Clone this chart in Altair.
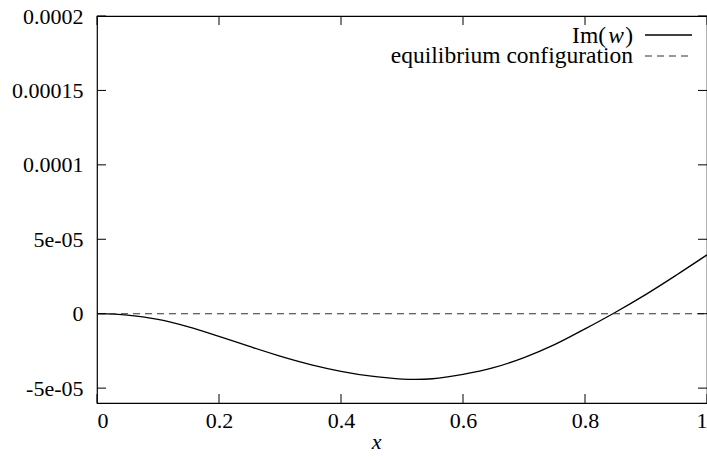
import altair as alt
import pandas as pd

# ---- data ----
x_vals = [0.0, 0.05, 0.1, 0.15, 0.2, 0.25, 0.3, 0.35, 0.4, 0.45, 0.5,
          0.55, 0.6, 0.65, 0.7, 0.75, 0.8, 0.85, 0.9, 0.95, 1.0]
im_w = [0.0, -0.9e-6, -3.8e-6, -8.8e-6, -1.52e-5, -2.2e-5, -2.85e-5, -3.42e-5,
        -3.87e-5, -4.2e-5, -4.39e-5, -4.37e-5, -4.08e-5, -3.63e-5, -2.95e-5,
        -2.08e-5, -1.02e-5, 1.0e-6, 1.3e-5, 2.6e-5, 3.95e-5]
eq_x = [0.0, 1.0]
eq_y = [0.0, 0.0]

x_ticks = [0, 0.2, 0.4, 0.6, 0.8, 1.0]
x_tick_labels = ["0", "0.2", "0.4", "0.6", "0.8", "1"]
y_ticks = [-5e-05, 0.0, 5e-05, 1e-04, 1.5e-04, 2e-04]
y_tick_labels = ["-5e-05", "0", "5e-05", "0.0001", "0.00015", "0.0002"]

series_names = ["Im(w)", "equilibrium configuration"]

W, H = 610, 387
FONT = "'Liberation Serif', 'DejaVu Serif', serif"


def label_expr(values, labels):
    expr = "''"
    for v, l in zip(values, labels):
        expr = f"abs(datum.value - ({v})) < 1e-9 ? '{l}' : ({expr})"
    return expr


xscale = alt.Scale(domain=[0, 1], nice=False, zero=False)
yscale = alt.Scale(domain=[-6e-05, 2e-04], nice=False, zero=False)

x_axis = alt.Axis(values=x_ticks,
                  labelExpr=label_expr(x_ticks, x_tick_labels),
                  title="x", titleFontStyle="italic",
                  titleFont=FONT, titleFontSize=22,
                  titleFontWeight="normal",
                  titleX=279, titleY=38, titleBaseline="middle",
                  titleAnchor="start", titleAlign="center",
                  labelPadding=7, labelBaseline="top", labelFont=FONT)
y_axis = alt.Axis(values=y_ticks,
                  labelExpr=label_expr(y_ticks, y_tick_labels),
                  title=None, labelPadding=14,
                  labelBaseline="middle", labelFont=FONT)

curve_df = pd.DataFrame({"x": x_vals, "y": im_w})
eq_df = pd.DataFrame({"x": eq_x, "y": eq_y})
xt_df = pd.DataFrame({"x": x_ticks})
yt_df = pd.DataFrame({"y": y_ticks})

curve = alt.Chart(curve_df).mark_line(
    color="black", strokeWidth=1.3, interpolate="catmull-rom"
).encode(
    x=alt.X("x:Q", scale=xscale, axis=x_axis),
    y=alt.Y("y:Q", scale=yscale, axis=y_axis),
)

eq = alt.Chart(eq_df).mark_line(
    color="#333333", strokeWidth=1.1, strokeDash=[7, 5]
).encode(
    x=alt.X("x:Q", scale=xscale, axis=x_axis),
    y=alt.Y("y:Q", scale=yscale, axis=y_axis),
)

tick_len = 9
yt_left = alt.Chart(yt_df).mark_rule(color="black", strokeWidth=1).encode(
    y=alt.Y("y:Q", scale=yscale, axis=y_axis),
    x=alt.value(0), x2=alt.value(tick_len))
yt_right = alt.Chart(yt_df).mark_rule(color="black", strokeWidth=1).encode(
    y=alt.Y("y:Q", scale=yscale, axis=y_axis),
    x=alt.value(W - tick_len), x2=alt.value(W))
xt_bottom = alt.Chart(xt_df).mark_rule(color="black", strokeWidth=1).encode(
    x=alt.X("x:Q", scale=xscale, axis=x_axis),
    y=alt.value(H - tick_len), y2=alt.value(H))
xt_top = alt.Chart(xt_df).mark_rule(color="black", strokeWidth=1).encode(
    x=alt.X("x:Q", scale=xscale, axis=x_axis),
    y=alt.value(0), y2=alt.value(tick_len))

# ---- legend (gnuplot style: text, then sample) ----
LFS = 23.5
leg_df = pd.DataFrame({"name": series_names})
txt_right = 536
row1, row2 = 20, 40
leg_im1 = alt.Chart(leg_df.iloc[[0]]).mark_text(
    font=FONT, fontSize=LFS, align="right", baseline="middle", color="black"
).encode(text=alt.value("Im("), x=alt.value(txt_right - 10 - 17), y=alt.value(row1))
leg_im2 = alt.Chart(leg_df.iloc[[0]]).mark_text(
    font=FONT, fontSize=LFS, align="right", baseline="middle", color="black",
    fontStyle="italic"
).encode(text=alt.value("w"), x=alt.value(txt_right - 9), y=alt.value(row1))
leg_im3 = alt.Chart(leg_df.iloc[[0]]).mark_text(
    font=FONT, fontSize=LFS, align="right", baseline="middle", color="black"
).encode(text=alt.value(")"), x=alt.value(txt_right), y=alt.value(row1))
leg_eq = alt.Chart(leg_df.iloc[[1]]).mark_text(
    font=FONT, fontSize=LFS, align="right", baseline="middle", color="black"
).encode(text="name:N", x=alt.value(txt_right), y=alt.value(row2))
leg_l1 = alt.Chart(leg_df.iloc[[0]]).mark_rule(color="black", strokeWidth=1.3).encode(
    x=alt.value(548), x2=alt.value(595), y=alt.value(row1 - 1))
leg_l2 = alt.Chart(leg_df.iloc[[1]]).mark_rule(
    color="#333333", strokeWidth=1.1, strokeDash=[7, 5]).encode(
    x=alt.value(548), x2=alt.value(595), y=alt.value(row2))

chart = alt.layer(
    curve, eq, yt_left, yt_right, xt_bottom, xt_top,
    leg_im1, leg_im2, leg_im3, leg_eq, leg_l1, leg_l2
).resolve_scale(x="shared", y="shared").properties(
    width=W, height=H,
    autosize=alt.AutoSizeParams(type="none"),
    padding={"left": 97, "top": 16, "right": 0, "bottom": 54},
    background="white",
).configure_view(
    stroke="black", strokeWidth=1.2
).configure_axis(
    grid=False, ticks=False, domain=False,
    labelFont=FONT, labelFontSize=22, labelColor="black",
    titleColor="black",
)

chart.save("out.html", embed_options={"renderer": "svg", "actions": False})
